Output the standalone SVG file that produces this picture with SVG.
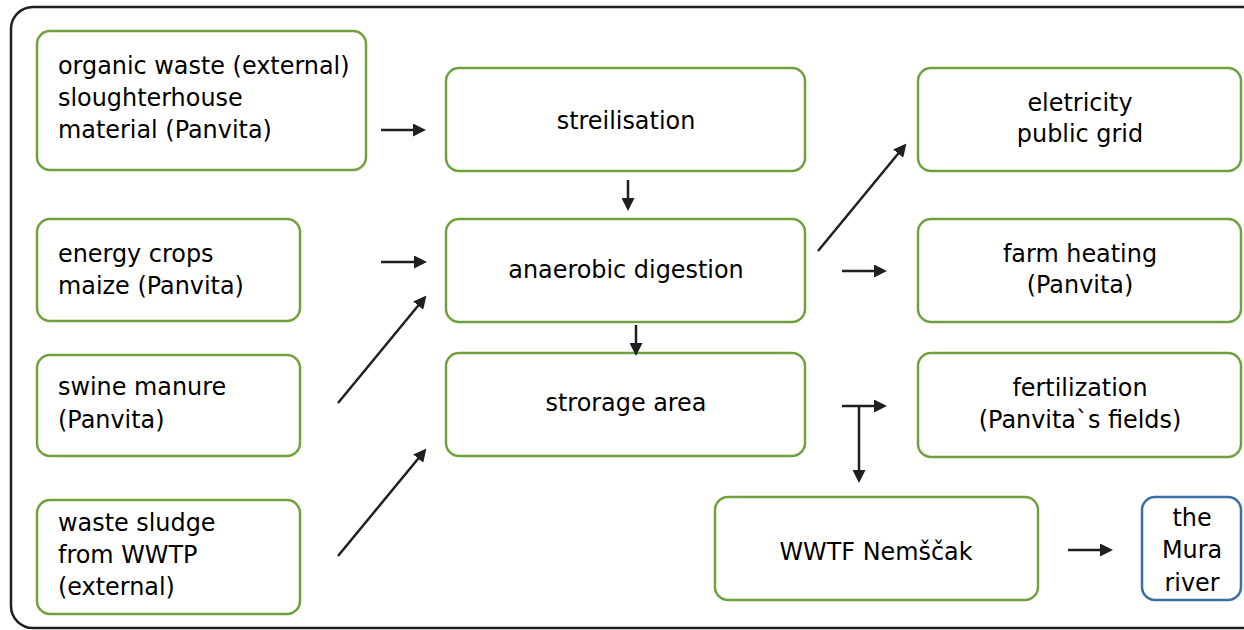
<svg xmlns="http://www.w3.org/2000/svg" width="1244" height="630" viewBox="0 0 1244 630">
<defs>
<style>
.frame{fill:none;stroke:#231f20;stroke-width:2.5}
.box{fill:#fff;stroke:#6fa23f;stroke-width:2.5}
.blue{fill:#fff;stroke:#3a6ea8;stroke-width:2.5}
text{font-family:"DejaVu Sans","Noto Sans",sans-serif;font-size:23.9px;fill:#000}
.c{text-anchor:middle}
.arr{fill:none;stroke:#231f20;stroke-width:2.5;marker-end:url(#ah)}
</style>
<marker id="ah" viewBox="0 0 13 13" refX="6" refY="6.5" markerWidth="13" markerHeight="13" markerUnits="userSpaceOnUse" orient="auto">
<path d="M0,0 L13,6.5 L0,13 z" fill="#231f20"/>
</marker>
</defs>
<rect class="frame" x="11" y="7" width="1260" height="621" rx="22"/>

<g id="organic-waste">
<rect class="box" x="37" y="31" width="329" height="139" rx="13"/>
<text x="58" y="74">organic waste (external)</text>
<text x="58" y="106">sloughterhouse</text>
<text x="58" y="138">material (Panvita)</text>
</g>
<g id="energy-crops">
<rect class="box" x="37" y="219" width="263" height="102" rx="13"/>
<text x="58" y="262">energy crops</text>
<text x="58" y="294">maize (Panvita)</text>
</g>
<g id="swine-manure">
<rect class="box" x="37" y="355" width="263" height="101" rx="13"/>
<text x="58" y="395">swine manure</text>
<text x="58" y="428">(Panvita)</text>
</g>
<g id="waste-sludge">
<rect class="box" x="37" y="500" width="263" height="114" rx="13"/>
<text x="58" y="531">waste sludge</text>
<text x="58" y="563">from WWTP</text>
<text x="58" y="595">(external)</text>
</g>
<g id="sterilisation">
<rect class="box" x="446" y="68" width="359" height="103" rx="13"/>
<text class="c" x="626" y="129">streilisation</text>
</g>
<g id="anaerobic-digestion">
<rect class="box" x="446" y="219" width="359" height="103" rx="13"/>
<text class="c" x="626" y="278">anaerobic digestion</text>
</g>
<g id="storage-area">
<rect class="box" x="446" y="353" width="359" height="103" rx="13"/>
<text class="c" x="626" y="411">strorage area</text>
</g>
<g id="electricity">
<rect class="box" x="918" y="68" width="323" height="103" rx="13"/>
<text class="c" x="1080" y="111">eletricity</text>
<text class="c" x="1080" y="142">public grid</text>
</g>
<g id="farm-heating">
<rect class="box" x="918" y="219" width="323" height="103" rx="13"/>
<text class="c" x="1080" y="262">farm heating</text>
<text class="c" x="1080" y="293">(Panvita)</text>
</g>
<g id="fertilization">
<rect class="box" x="918" y="353" width="323" height="104" rx="13"/>
<text class="c" x="1080" y="396">fertilization</text>
<text class="c" x="1080" y="428">(Panvita`s fields)</text>
</g>
<g id="wwtf">
<rect class="box" x="715" y="497" width="323" height="103" rx="13"/>
<text class="c" x="876" y="560">WWTF Nemščak</text>
</g>
<g id="mura-river">
<rect class="blue" x="1142" y="497" width="99" height="103" rx="13"/>
<text class="c" x="1192" y="526">the</text>
<text class="c" x="1192" y="558">Mura</text>
<text class="c" x="1192" y="591">river</text>
</g>

<g id="connectors">
<path class="arr" d="M381,130 H419"/>
<path class="arr" d="M628,180 V204"/>
<path class="arr" d="M381,262 H420"/>
<path class="arr" d="M338,403 L422,301"/>
<path class="arr" d="M338,556 L422,454"/>
<path class="arr" d="M636,325 V349"/>
<path class="arr" d="M818,251 L902,149"/>
<path class="arr" d="M842,271 H880"/>
<path class="arr" d="M842,406 H880"/>
<path class="arr" d="M859,406 V476"/>
<path class="arr" d="M1068,550 H1106"/>
</g>
</svg>
